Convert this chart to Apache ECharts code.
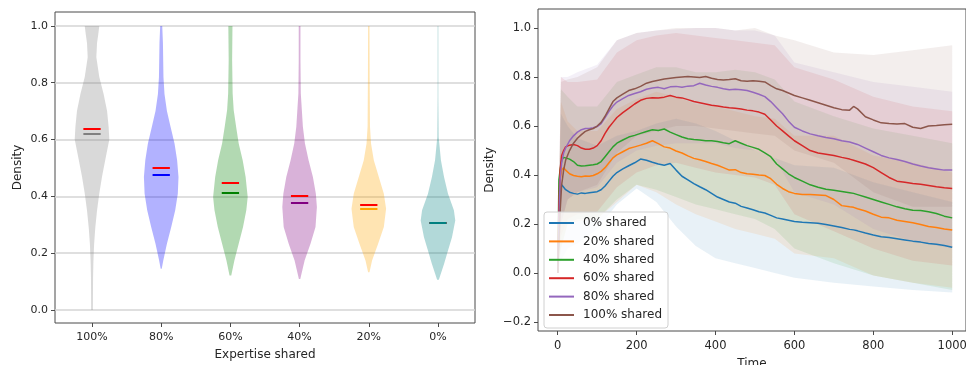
<!DOCTYPE html>
<html>
<head>
<meta charset="utf-8">
<script src="https://cdn.jsdelivr.net/npm/echarts@6/dist/echarts.min.js"></script>
<style>
  html, body { margin: 0; padding: 0; background: #fff; }
  #chart { width: 966px; height: 365px; }
</style>
</head>
<body>
<div id="chart"></div>
<script>
// ---- left panel: violins ----
const categories = ["100%", "80%", "60%", "40%", "20%", "0%"];
const positions = [1, 2, 3, 4, 5, 6];
const leftYTicks = [0, 0.2, 0.4, 0.6, 0.8, 1.0];

// density profile of each violin: levels (y) and relative half-widths
const levels100 = [1.0, 0.97, 0.94, 0.89, 0.82, 0.76, 0.70, 0.645, 0.60, 0.53, 0.47, 0.41, 0.35, 0.29, 0.23, 0.17, 0.115, 0.0];
const widths100 = [0.42, 0.36, 0.29, 0.25, 0.42, 0.67, 0.87, 0.96, 1.0, 0.77, 0.58, 0.42, 0.29, 0.19, 0.12, 0.08, 0.06, 0.05];
const levels80 = [1.0, 0.94, 0.82, 0.76, 0.70, 0.645, 0.586, 0.527, 0.468, 0.409, 0.351, 0.292, 0.233, 0.174, 0.145];
const widths80 = [0.06, 0.1, 0.13, 0.19, 0.33, 0.54, 0.77, 0.92, 1.0, 0.96, 0.81, 0.58, 0.33, 0.12, 0.03];
const levels60 = [1.0, 0.88, 0.762, 0.704, 0.645, 0.586, 0.527, 0.468, 0.398, 0.351, 0.292, 0.233, 0.174, 0.121];
const widths60 = [0.12, 0.1, 0.13, 0.19, 0.33, 0.48, 0.71, 0.88, 1.0, 0.92, 0.73, 0.48, 0.23, 0.05];
const levels40 = [1.0, 0.88, 0.762, 0.704, 0.645, 0.586, 0.527, 0.468, 0.409, 0.362, 0.292, 0.233, 0.174, 0.109];
const widths40 = [0.05, 0.05, 0.07, 0.13, 0.19, 0.31, 0.52, 0.77, 0.94, 1.0, 0.92, 0.63, 0.29, 0.04];
const levels20 = [1.0, 0.821, 0.645, 0.586, 0.527, 0.468, 0.409, 0.356, 0.292, 0.233, 0.174, 0.133];
const widths20 = [0.04, 0.05, 0.07, 0.13, 0.29, 0.58, 0.87, 1.0, 0.87, 0.54, 0.19, 0.04];
const levels0 = [1.0, 0.75, 0.609, 0.527, 0.468, 0.409, 0.351, 0.315, 0.256, 0.209, 0.162, 0.106];
const widths0 = [0.02, 0.02, 0.04, 0.17, 0.35, 0.58, 0.92, 1.0, 0.81, 0.58, 0.35, 0.05];

const means = [0.638, 0.501, 0.446, 0.401, 0.369, 0.305];
const medians = [0.620, 0.475, 0.411, 0.376, 0.355, 0.305];

// ---- right panel: density over time ----
const seriesNames = ["0% shared", "20% shared", "40% shared", "60% shared", "80% shared", "100% shared"];
const times = [0, 3, 6, 10, 15, 20, 30, 40, 50, 60, 70, 80, 90, 100, 110, 120, 130, 140, 150, 165, 180, 195, 210, 225, 240, 255, 270, 285, 300, 315, 330, 345, 360, 375, 390, 405, 420, 435, 450, 465, 480, 495, 510, 525, 540, 555, 570, 585, 600, 620, 640, 660, 680, 700, 720, 740, 750, 760, 780, 800, 820, 840, 860, 880, 900, 920, 940, 960, 980, 1000];
const shared0 = [0.0, 0.2, 0.33, 0.36, 0.35, 0.34, 0.33, 0.325, 0.322, 0.327, 0.325, 0.328, 0.33, 0.332, 0.34, 0.355, 0.375, 0.395, 0.41, 0.425, 0.438, 0.45, 0.465, 0.46, 0.452, 0.445, 0.44, 0.447, 0.42, 0.395, 0.38, 0.365, 0.352, 0.34, 0.325, 0.31, 0.3, 0.29, 0.285, 0.272, 0.265, 0.258, 0.25, 0.245, 0.235, 0.225, 0.22, 0.215, 0.21, 0.207, 0.205, 0.203, 0.198, 0.192, 0.186, 0.178, 0.176, 0.172, 0.163, 0.155, 0.148, 0.145, 0.14, 0.135, 0.13, 0.126, 0.12, 0.117, 0.112, 0.105];
const shared20 = [0.0, 0.25, 0.38, 0.42, 0.43, 0.42, 0.405, 0.398, 0.395, 0.393, 0.396, 0.395, 0.398, 0.405, 0.415, 0.43, 0.45, 0.47, 0.482, 0.495, 0.508, 0.515, 0.522, 0.53, 0.54, 0.528, 0.515, 0.51, 0.498, 0.49, 0.478, 0.468, 0.462, 0.455, 0.447, 0.44, 0.43, 0.42, 0.422, 0.41, 0.405, 0.403, 0.4, 0.398, 0.385, 0.362, 0.345, 0.332, 0.325, 0.32, 0.32, 0.318, 0.316, 0.3, 0.275, 0.27, 0.268, 0.262, 0.253, 0.24, 0.228, 0.225, 0.215, 0.21, 0.205, 0.198, 0.19, 0.186, 0.18, 0.175];
const shared40 = [0.0, 0.38, 0.42, 0.46, 0.472, 0.47, 0.465, 0.455, 0.44, 0.437, 0.438, 0.44, 0.442, 0.445, 0.455, 0.475, 0.495, 0.515, 0.53, 0.543, 0.555, 0.562, 0.57, 0.578, 0.585, 0.582, 0.588, 0.575, 0.565, 0.555, 0.548, 0.545, 0.543, 0.54, 0.54, 0.537, 0.532, 0.528, 0.54, 0.53, 0.52, 0.513, 0.505, 0.49, 0.475, 0.445, 0.425, 0.405, 0.39, 0.375, 0.36, 0.35, 0.342, 0.338, 0.333, 0.328, 0.325, 0.32, 0.31, 0.3, 0.29, 0.28, 0.27, 0.262, 0.256, 0.255, 0.25, 0.243, 0.232, 0.225];
const shared60 = [0.0, 0.28, 0.42, 0.48, 0.5, 0.515, 0.522, 0.525, 0.52, 0.51, 0.505, 0.505, 0.51, 0.52, 0.54, 0.57, 0.595, 0.615, 0.635, 0.655, 0.672, 0.69, 0.705, 0.713, 0.716, 0.715, 0.718, 0.725, 0.718, 0.715, 0.708, 0.7, 0.695, 0.69, 0.685, 0.682, 0.678, 0.675, 0.673, 0.67, 0.665, 0.662, 0.657, 0.648, 0.625, 0.6, 0.58, 0.56, 0.54, 0.52, 0.5, 0.49, 0.485, 0.48, 0.472, 0.465, 0.46, 0.455, 0.445, 0.43, 0.41, 0.39, 0.375, 0.37, 0.365, 0.362, 0.357, 0.352, 0.348, 0.345];
const shared80 = [0.0, 0.2, 0.38, 0.45, 0.49, 0.51, 0.54, 0.56, 0.575, 0.585, 0.59, 0.59, 0.593, 0.598, 0.61, 0.635, 0.66, 0.682, 0.698, 0.712, 0.725, 0.733, 0.74, 0.75, 0.755, 0.758, 0.752, 0.76, 0.762, 0.758, 0.763, 0.765, 0.775, 0.768, 0.762, 0.758, 0.752, 0.748, 0.75, 0.748, 0.745, 0.738, 0.73, 0.72, 0.7, 0.675, 0.65, 0.62, 0.595, 0.58, 0.568, 0.56, 0.553, 0.548, 0.54, 0.535, 0.53, 0.525, 0.51, 0.495, 0.48, 0.47, 0.463, 0.455, 0.445, 0.437, 0.43, 0.425, 0.42, 0.42];
const shared100 = [0.0, 0.12, 0.25, 0.36, 0.42, 0.46, 0.5, 0.53, 0.55, 0.565, 0.578, 0.585, 0.59, 0.6, 0.615, 0.64, 0.67, 0.7, 0.715, 0.73, 0.745, 0.752, 0.762, 0.775, 0.782, 0.787, 0.792, 0.795, 0.798, 0.8, 0.802, 0.8, 0.798, 0.802, 0.795, 0.79, 0.788, 0.79, 0.793, 0.785, 0.783, 0.785, 0.783, 0.78, 0.765, 0.752, 0.745, 0.735, 0.725, 0.715, 0.705, 0.695, 0.685, 0.675, 0.667, 0.665, 0.68, 0.67, 0.638, 0.625, 0.613, 0.61, 0.608, 0.61, 0.595, 0.59, 0.6, 0.602, 0.605, 0.607];

// spread bands (mean +/- std) read at coarser times
const bandTimes = [0, 8, 25, 50, 100, 150, 200, 250, 300, 350, 400, 450, 500, 550, 600, 700, 800, 900, 1000];
const lower0 = [0, 0.05, 0.1, 0.12, 0.18, 0.28, 0.345, 0.29, 0.19, 0.11, 0.06, 0.04, 0.02, 0.0, -0.02, -0.04, -0.055, -0.07, -0.08];
const upper0 = [0, 0.65, 0.6, 0.55, 0.52, 0.56, 0.58, 0.61, 0.63, 0.61, 0.58, 0.54, 0.5, 0.47, 0.44, 0.43, 0.37, 0.33, 0.29];
const lower20 = [0, 0.1, 0.2, 0.21, 0.22, 0.29, 0.36, 0.33, 0.28, 0.24, 0.21, 0.18, 0.16, 0.14, 0.08, 0.06, -0.01, -0.04, -0.06];
const upper20 = [0, 0.7, 0.62, 0.58, 0.58, 0.67, 0.71, 0.74, 0.72, 0.69, 0.68, 0.66, 0.64, 0.63, 0.56, 0.56, 0.48, 0.45, 0.41];
const lower40 = [0, 0.1, 0.2, 0.22, 0.22, 0.3, 0.36, 0.34, 0.31, 0.28, 0.26, 0.24, 0.22, 0.18, 0.1, 0.04, -0.01, -0.04, -0.07];
const upper40 = [0, 0.75, 0.72, 0.68, 0.68, 0.78, 0.81, 0.84, 0.84, 0.82, 0.82, 0.83, 0.82, 0.79, 0.7, 0.64, 0.59, 0.56, 0.53];
const lower60 = [0, 0.15, 0.22, 0.24, 0.25, 0.35, 0.41, 0.44, 0.45, 0.43, 0.41, 0.4, 0.39, 0.36, 0.24, 0.17, 0.1, 0.05, 0.03];
const upper60 = [0, 0.8, 0.78, 0.78, 0.79, 0.9, 0.95, 0.97, 0.98, 0.97, 0.96, 0.95, 0.94, 0.93, 0.84, 0.79, 0.72, 0.68, 0.66];
const lower80 = [0, 0.2, 0.3, 0.33, 0.35, 0.45, 0.5, 0.52, 0.53, 0.53, 0.53, 0.51, 0.5, 0.47, 0.33, 0.28, 0.18, 0.13, 0.1];
const upper80 = [0, 0.8, 0.8, 0.82, 0.85, 0.95, 0.98, 0.99, 0.995, 1.0, 1.0, 0.99, 0.99, 0.97, 0.86, 0.82, 0.78, 0.76, 0.74];
const lower100 = [0, 0.2, 0.3, 0.33, 0.36, 0.49, 0.56, 0.58, 0.6, 0.6, 0.59, 0.58, 0.57, 0.56, 0.5, 0.45, 0.33, 0.27, 0.27];
const upper100 = [0, 0.78, 0.79, 0.8, 0.84, 0.95, 0.98, 0.99, 1.0, 1.0, 1.0, 0.99, 1.0, 0.97, 0.95, 0.9, 0.89, 0.91, 0.93];

const timeTicks = [0, 200, 400, 600, 800, 1000];
const rightYTicks = [-0.2, 0, 0.2, 0.4, 0.6, 0.8, 1.0];

// ---- styles ----
const violinColors = ["#808080", "#0000ff", "#008000", "#800080", "#ffa500", "#008080"];
const lineColors = ["#1f77b4", "#ff7f0e", "#2ca02c", "#d62728", "#9467bd", "#8c564b"];
const FONT = "DejaVu Sans";
const TEXT = "#262626";
const FRAME = "#4a4a4a";

const profiles = [
  [levels100, widths100], [levels80, widths80], [levels60, widths60],
  [levels40, widths40], [levels20, widths20], [levels0, widths0],
];
const lineData = [shared0, shared20, shared40, shared60, shared80, shared100];
const bands = [
  [lower0, upper0], [lower20, upper20], [lower40, upper40],
  [lower60, upper60], [lower80, upper80], [lower100, upper100],
];

const chart = echarts.init(document.getElementById("chart"), null, { renderer: "canvas" });

const violinHalf = 0.25; // matplotlib widths=0.5
const barHalf = 0.125;

const violinSeries = {
  type: "custom",
  xAxisIndex: 0,
  yAxisIndex: 0,
  silent: true,
  z: 2,
  data: positions.map((p) => [p, 0]),
  renderItem: (params, api) => {
    const i = params.dataIndex;
    const pos = api.value(0);
    const [lv, wd] = profiles[i];
    const pts = [];
    for (let k = 0; k < lv.length; k++) pts.push(api.coord([pos + wd[k] * violinHalf, lv[k]]));
    for (let k = lv.length - 1; k >= 0; k--) pts.push(api.coord([pos - wd[k] * violinHalf, lv[k]]));
    return {
      type: "polygon",
      shape: { points: pts },
      style: { fill: violinColors[i], opacity: 0.3 },
    };
  },
};

function statSeries(values, colorFn, z) {
  return {
    type: "custom",
    xAxisIndex: 0,
    yAxisIndex: 0,
    silent: true,
    z: z,
    data: positions.map((p, i) => [p, values[i]]),
    renderItem: (params, api) => {
      const a = api.coord([api.value(0) - barHalf, api.value(1)]);
      const b = api.coord([api.value(0) + barHalf, api.value(1)]);
      const y = Math.round(a[1]); // snap so overlapping bars cover each other fully
      return {
        type: "line",
        shape: { x1: a[0], y1: y, x2: b[0], y2: y },
        style: { stroke: colorFn(params.dataIndex), lineWidth: 2 },
      };
    },
  };
}

const bandSeries = bands.map(([lo, hi], s) => ({
  type: "custom",
  xAxisIndex: 1,
  yAxisIndex: 1,
  silent: true,
  z: 1,
  data: [[0, 0]],
  renderItem: (params, api) => {
    const pts = [];
    bandTimes.forEach((t, k) => pts.push(api.coord([t, hi[k]])));
    for (let k = bandTimes.length - 1; k >= 0; k--) pts.push(api.coord([bandTimes[k], lo[k]]));
    return {
      type: "polygon",
      shape: { points: pts },
      style: { fill: lineColors[s], opacity: 0.1 },
    };
  },
}));

const lineSeries = lineData.map((vals, s) => ({
  name: seriesNames[s],
  type: "line",
  xAxisIndex: 1,
  yAxisIndex: 1,
  showSymbol: false,
  symbol: "none",
  z: 3,
  color: lineColors[s],
  lineStyle: { color: lineColors[s], width: 1.5 },
  data: times.map((t, k) => [t, vals[k]]),
}));

const axisText = { color: TEXT, fontFamily: FONT, fontSize: 11 };
const nameText = { color: TEXT, fontFamily: FONT, fontSize: 12 };

const option = {
  animation: false,
  backgroundColor: "#fff",
  textStyle: { fontFamily: FONT },
  grid: [
    { left: 55, top: 12, width: 420, height: 311, outerBoundsMode: "none", containLabel: false, show: true, borderColor: FRAME, borderWidth: 1, backgroundColor: "transparent" },
    { left: 538, top: 9, width: 428, height: 322, outerBoundsMode: "none", containLabel: false, show: true, borderColor: FRAME, borderWidth: 1, backgroundColor: "transparent" },
  ],
  xAxis: [
    {
      gridIndex: 0,
      type: "value",
      min: 0.465,
      max: 6.535,
      name: "Expertise shared",
      nameLocation: "middle",
      nameGap: 26,
      nameTextStyle: nameText,
      axisLine: { show: false, onZero: false },
      axisTick: { show: true, customValues: positions, length: 4, lineStyle: { color: FRAME } },
      axisLabel: { ...axisText, customValues: positions, margin: 9, formatter: (v) => categories[Math.round(v) - 1] },
      splitLine: { show: false },
    },
    {
      gridIndex: 1,
      type: "value",
      min: -50,
      max: 1035,
      name: "Time",
      nameLocation: "middle",
      nameGap: 27,
      nameTextStyle: nameText,
      axisLine: { show: false, onZero: false },
      axisTick: { show: true, customValues: timeTicks, length: 4, lineStyle: { color: FRAME } },
      axisLabel: { ...axisText, fontSize: 11.5, customValues: timeTicks, margin: 9, formatter: (v) => String(v) },
      splitLine: { show: false },
    },
  ],
  yAxis: [
    {
      gridIndex: 0,
      type: "value",
      min: -0.046,
      max: 1.049,
      name: "Density",
      nameLocation: "middle",
      nameGap: 31,
      nameTextStyle: nameText,
      axisLine: { show: false, onZero: false },
      axisTick: { show: true, customValues: leftYTicks, length: 4, lineStyle: { color: FRAME } },
      axisLabel: { ...axisText, customValues: leftYTicks, margin: 7, formatter: (v) => v.toFixed(1) },
      splitLine: { show: true, lineStyle: { color: "#d4d4d4", width: 1.5 } },
    },
    {
      gridIndex: 1,
      type: "value",
      min: -0.237,
      max: 1.078,
      name: "Density",
      nameLocation: "middle",
      nameGap: 42,
      nameTextStyle: nameText,
      axisLine: { show: false, onZero: false },
      axisTick: { show: true, customValues: rightYTicks, length: 4, lineStyle: { color: FRAME } },
      axisLabel: { ...axisText, fontSize: 11.5, customValues: rightYTicks, margin: 7, formatter: (v) => (v < 0 ? "\u2212" + Math.abs(v).toFixed(1) : v.toFixed(1)) },
      splitLine: { show: false },
    },
  ],
  legend: {
    data: seriesNames,
    orient: "vertical",
    left: 544,
    top: 212,
    padding: [4, 6, 6, 5],
    itemGap: 4.4,
    itemWidth: 25,
    itemHeight: 2,
    icon: "rect",
    backgroundColor: "rgba(255,255,255,0.8)",
    borderColor: "#d0d0d0",
    borderWidth: 1,
    borderRadius: 3,
    textStyle: { color: TEXT, fontFamily: FONT, fontSize: 12, lineHeight: 14, padding: [0, 0, 0, 4] },
    z: 10,
  },
  series: [
    violinSeries,
    statSeries(means, () => "#ff0000", 3),
    statSeries(medians, (i) => violinColors[i], 4),
    ...bandSeries,
    ...lineSeries,
  ],
};

chart.setOption(option);
</script>
</body>
</html>
